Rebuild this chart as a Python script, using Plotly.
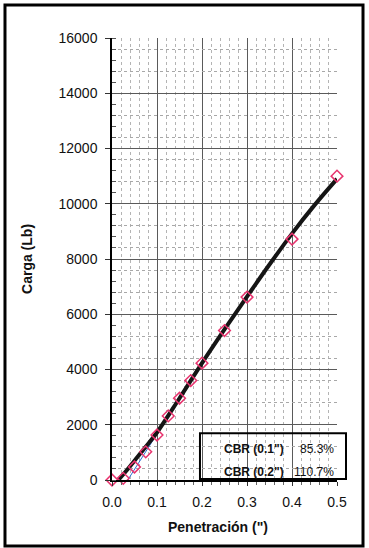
import plotly.graph_objects as go

# Data
penetracion = [0, 0.025, 0.05, 0.075, 0.1, 0.125, 0.15, 0.175, 0.2, 0.25, 0.3, 0.4, 0.5]
carga = [0, 60, 470, 1020, 1630, 2320, 2960, 3600, 4230, 5410, 6620, 8720, 11000]

curva_x = [0.014, 0.03, 0.05, 0.075, 0.1, 0.15, 0.2, 0.25, 0.3, 0.35, 0.4, 0.45, 0.5]
curva_y = [0, 300, 700, 1200, 1720, 2960, 4230, 5450, 6640, 7800, 8920, 9950, 10900]

tangente_x = [0.035, 0.2]
tangente_y = [0, 4230]

cbr_labels = ['CBR (0.1")', 'CBR (0.2")']
cbr_values = ['85.3%', '110.7%']

FONT = "Liberation Sans, Arial, sans-serif"

fig = go.Figure()

# invisible helper trace so the base y axis (minor dotted grid) is rendered
fig.add_trace(go.Scatter(x=[None], y=[None], mode="markers", xaxis="x", yaxis="y",
                         showlegend=False, hoverinfo="skip"))
fig.add_trace(go.Scatter(x=tangente_x, y=tangente_y, mode="lines",
                         line=dict(color="#2a6fd6", width=1),
                         xaxis="x", yaxis="y2", showlegend=False, hoverinfo="skip"))
fig.add_trace(go.Scatter(x=curva_x, y=curva_y, mode="lines",
                         line=dict(color="#151515", width=4, shape="spline", smoothing=1.0),
                         xaxis="x", yaxis="y2", showlegend=False))
fig.add_trace(go.Scatter(x=penetracion, y=carga, mode="markers",
                         marker=dict(symbol="diamond-open", size=9, color="#e8336e",
                                     line=dict(width=1.5, color="#e8336e")),
                         cliponaxis=False, xaxis="x", yaxis="y2", showlegend=False))

fig.update_layout(
    width=369, height=548,
    margin=dict(l=112, r=32, t=38, b=68),
    paper_bgcolor="white", plot_bgcolor="white",
    font=dict(family=FONT, size=14, color="#111"),
    xaxis=dict(
        range=[0, 0.5], tickmode="linear", tick0=0, dtick=0.1, tickformat=".1f",
        showgrid=True, gridcolor="#5a5a5a", gridwidth=1,
        showline=True, linecolor="black", linewidth=1.5,
        ticks="outside", ticklen=4, tickcolor="#333",
        ticklabelstandoff=4,
        zeroline=False,
        minor=dict(dtick=0.02, tick0=0, showgrid=True, gridcolor="#b4b4b4",
                   griddash="dot", gridwidth=1, ticks="outside", ticklen=3, tickcolor="#666"),
        tickfont=dict(family=FONT, size=14, color="#111"),
    ),
    yaxis=dict(
        range=[0, 16000], tickmode="linear", tick0=400, dtick=800,
        showgrid=True, gridcolor="#a8a8a8", griddash="dot", gridwidth=1,
        showticklabels=False, ticks="", showline=False, zeroline=False,
    ),
    yaxis2=dict(
        range=[0, 16000], overlaying="y", side="left",
        tickmode="linear", tick0=0, dtick=2000, tickformat="d",
        showgrid=True, gridcolor="#5a5a5a", gridwidth=1,
        showline=True, linecolor="black", linewidth=1.5,
        ticks="outside", ticklen=5, tickcolor="#333",
        ticklabelstandoff=5,
        zeroline=False,
        minor=dict(dtick=400, tick0=0, showgrid=False, ticks="inside", ticklen=4, tickcolor="#555"),
        tickfont=dict(family=FONT, size=14, color="#111"),
    ),
)

annotations = [
    dict(text="<b>Carga (Lb)</b>", x=-0.378, y=0.5, xref="paper", yref="paper",
         textangle=-90, showarrow=False, xanchor="center", yanchor="middle",
         font=dict(family=FONT, size=14, color="#111")),
    dict(text="<b>Penetración (\")</b>", x=0.471, y=-0.1057, xref="paper", yref="paper",
         showarrow=False, xanchor="center", yanchor="middle",
         font=dict(family=FONT, size=14, color="#111")),
]
row_y = [0.0701, 0.0188]
for lab, val, yy in zip(cbr_labels, cbr_values, row_y):
    annotations.append(dict(text="<b>" + lab + "</b>", x=0.489, y=yy, xref="paper", yref="paper",
                            showarrow=False, xanchor="left", yanchor="middle",
                            font=dict(family=FONT, size=12, color="#111")))
    annotations.append(dict(text=val, x=0.9956, y=yy, xref="paper", yref="paper",
                            showarrow=False, xanchor="right", yanchor="middle",
                            font=dict(family=FONT, size=12, color="#111")))
fig.update_layout(annotations=annotations)

fig.update_layout(shapes=[
    dict(type="rect", xref="paper", yref="paper", x0=0.391, x1=1.04, y0=0.0023, y1=0.106,
         line=dict(color="black", width=2), fillcolor="rgba(0,0,0,0)", layer="above"),
    dict(type="rect", xref="paper", yref="paper", x0=-0.4756, x1=1.1156, y0=-0.1493, y1=1.0747,
         line=dict(color="black", width=3), fillcolor="rgba(0,0,0,0)", layer="above"),
])

fig.write_html("out.html")
